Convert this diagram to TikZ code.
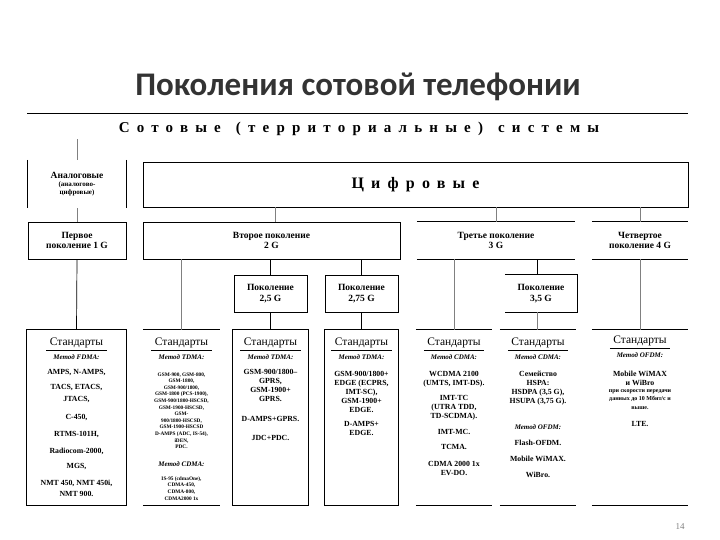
\documentclass[tikz,border=0pt]{standalone}
\usepackage{fontspec}
\setmainfont{Liberation Serif}
\newfontfamily\titlefont{Carlito}
\begin{document}
\begin{tikzpicture}[x=1pt,y=-1pt,
  box/.style={draw,line width=0.8pt,inner sep=0pt},
  open/.style={inner sep=0pt},
  lbl/.style={font=\bfseries\fontsize{9.5}{10.5}\selectfont,align=center},
  it/.style={font=\bfseries\itshape\fontsize{7}{8}\selectfont},
  itm/.style={font=\bfseries\fontsize{7.8}{9}\selectfont,align=center},
  tiny/.style={font=\bfseries\fontsize{5.3}{6.6}\selectfont,align=center},
  hdr/.style={font=\fontsize{11.5}{12}\selectfont},
  con/.style={gray,line width=0.6pt},
  hl/.style={line width=0.8pt}]
\useasboundingbox (0,0) rectangle (720,540);
\node[font=\titlefont\bfseries\fontsize{33}{35}\selectfont,text=black!80] (title) at (358,87) {Поколения сотовой телефонии};
\coordinate (tl) at (27,113); \coordinate (tr) at (688,113);
\draw[hl] (tl) -- (tr);
\node[font=\bfseries\fontsize{15}{15}\selectfont\addfontfeature{LetterSpace=48}] (cs) at (359,129) {Сотовые\quad(территориальные)\quad системы};
% level 1
\node[open,minimum width=98,minimum height=48] (an) at (77,184) {};
\draw[hl] (an.north west) -- (an.south west) (an.north east) -- (an.south east);
\node[align=center,font=\bfseries\fontsize{7}{8}\selectfont] at (an) {{\fontsize{9.5}{10}\selectfont Аналоговые}\\(аналогово-\\цифровые)};
\node[box,minimum width=545,minimum height=45] (dg) at (415.5,184.5) {};
\node[font=\bfseries\fontsize{16}{16}\selectfont\addfontfeature{LetterSpace=45}] at (dg) {Цифровые};
% level 2
\node[box,minimum width=98,minimum height=37,lbl] (g1) at (77,240.5) {Первое\\поколение 1 G};
\node[box,minimum width=257,minimum height=37,lbl] (g2) at (271.5,240.5) {Второе поколение\\2 G};
\node[open,minimum width=158,minimum height=37,lbl] (g3) at (496,240.5) {Третье поколение\\3 G};
\draw[hl] (g3.north west) -- (g3.north east) (g3.south west) -- (g3.south east);
\node[open,minimum width=96,minimum height=37,lbl] (g4) at (640,240.5) {Четвертое\\поколение 4 G};
\draw[hl] (g4.north west) -- (g4.north east) (g4.south west) -- (g4.south east);
% level 3
\node[box,minimum width=73,minimum height=37,lbl] (g25) at (270.5,293.5) {Поколение\\2,5 G};
\node[box,minimum width=73,minimum height=37,lbl] (g275) at (361.5,293.5) {Поколение\\2,75 G};
\node[open,minimum width=72,minimum height=37,lbl] (g35) at (541,293.5) {Поколение\\3,5 G};
\draw[hl] (g35.north west) -- (g35.north east) -- (g35.south east) -- (g35.south west);
% standards boxes
\foreach \n/\xa/\xb in {s1/27/126,s2/143/220,s3/233/308,s4/325/398,s5/416/492,s6/500/576,s7/592/688}{
  \node[open,minimum width={\xb-\xa},minimum height=175] (\n) at ({(\xa+\xb)/2},417.5) {};
}
\foreach \n in {s1,s3,s4}{\draw[hl] (\n.north west) rectangle (\n.south east);}
\foreach \n in {s2,s5,s6,s7}{\draw[hl] (\n.north west) -- (\n.north east) (\n.south west) -- (\n.south east);}
\foreach \n/\y in {s1/343,s2/343,s3/343,s4/343,s5/343,s6/343,s7/341}{
  \node[hdr] (\n h) at (\n |- 0,\y) {Стандарты};
  \draw[line width=0.6pt] (\n h.south west) ++(0,-1) -- ([yshift=1pt]\n h.south east);
}
% connectors
\draw[con] (cs.south -| an.north) -- (an.north);
\draw[con] (an.south) -- (g1.north);
\draw[con] (dg.south -| 275,0) -- (g2.north -| 275,0);
\draw[con] (dg.south -| g3.north) -- (g3.north);
\draw[con] (dg.south -| g4.north) -- (g4.north);
\draw[line width=0.7pt] (g1.south) -- (s1.north);
\draw[con] (g2.south -| s2.north) -- (s2.north);
\draw[line width=0.7pt] (g2.south -| g25.north) -- (g25.north);
\draw[line width=0.7pt] (g2.south -| g275.north) -- (g275.north);
\draw[line width=0.7pt] (g25.south) -- (s3.north);
\draw[line width=0.7pt] (g275.south) -- (s4.north);
\draw[con] (g3.south -| s5.north) -- (s5.north);
\draw[line width=0.7pt] (g3.south -| 537,0) -- (g35.north -| 537,0);
\draw[con] (g35.south -| 537,0) -- (s6.north -| 537,0);
\draw[con] (g4.south) -- (s7.north);
% col1
\node[it] at (s1 |- 0,357) {Метод FDMA:};
\foreach \y/\t in {373/{AMPS, N-AMPS,},388/{TACS, ETACS,},400/{JTACS,},418/{C-450,},435/{RTMS-101H,},451/{Radiocom-2000,},467/{MGS,},483/{NMT 450, NMT 450i,},494/{NMT 900.}}
  \node[itm] at (s1 |- 0,\y) {\t};
% col2
\node[it] at (s2 |- 0,357) {Метод TDMA:};
\node[tiny,anchor=north] at (s2 |- 0,369) {GSM-900, GSM-800,\\GSM-1800,\\GSM-900/1800,\\GSM-1800 (PCS-1900),\\GSM-900/1800-HSCSD,\\GSM-1900-HSCSD,\\GSM-\\900/1800-HSCSD,\\GSM-1900-HSCSD\\D-AMPS (ADC, IS-54),\\iDEN,\\PDC.};
\node[it] at (s2 |- 0,464) {Метод CDMA:};
\node[tiny,anchor=north] at (s2 |- 0,473) {IS-95 (cdmaOne),\\CDMA-450,\\CDMA-800,\\CDMA2000 1x};
% col3
\node[it] at (s3 |- 0,357) {Метод TDMA:};
\node[itm,anchor=north] at (s3 |- 0,366) {GSM-900/1800--\\GPRS,\\GSM-1900+\\GPRS.};
\node[itm] at (s3 |- 0,419) {D-AMPS+GPRS.};
\node[itm] at (s3 |- 0,438) {JDC+PDC.};
% col4
\node[it] at (s4 |- 0,357) {Метод TDMA:};
\node[itm,anchor=north] at (s4 |- 0,368) {GSM-900/1800+\\EDGE (ECPRS,\\IMT-SC),\\GSM-1900+\\EDGE.};
\node[itm,anchor=north] at (s4 |- 0,418) {D-AMPS+\\EDGE.};
% col5
\node[it] at (s5 |- 0,357) {Метод CDMA:};
\node[itm,anchor=north] at (s5 |- 0,368) {WCDMA 2100\\(UMTS, IMT-DS).};
\node[itm,anchor=north] at (s5 |- 0,392) {IMT-TC\\(UTRA TDD,\\TD-SCDMA).};
\node[itm] at (s5 |- 0,432) {IMT-MC.};
\node[itm] at (s5 |- 0,447) {TCMA.};
\node[itm,anchor=north] at (s5 |- 0,458) {CDMA 2000 1x\\EV-DO.};
% col6
\node[it] at (s6 |- 0,357) {Метод CDMA:};
\node[itm,anchor=north] at (s6 |- 0,368) {Семейство\\HSPA:\\HSDPA (3,5 G),\\HSUPA (3,75 G).};
\node[it] at (s6 |- 0,427) {Метод OFDM:};
\node[itm] at (s6 |- 0,443) {Flash-OFDM.};
\node[itm] at (s6 |- 0,459) {Mobile WiMAX.};
\node[itm] at (s6 |- 0,475) {WiBro.};
% col7
\node[it] at (s7 |- 0,355) {Метод OFDM:};
\node[itm,anchor=north] at (s7 |- 0,368) {Mobile WiMAX\\и WiBro};
\node[tiny,font=\bfseries\fontsize{6}{8.5}\selectfont,anchor=north] at (s7 |- 0,386) {при скорости передачи\\данных до 10 Мбит/с и\\выше.};
\node[itm] at (s7 |- 0,424) {LTE.};
\node[text=gray,font=\fontsize{9}{9}\selectfont] (pg) at (680,527) {14};
\end{tikzpicture}
\end{document}
